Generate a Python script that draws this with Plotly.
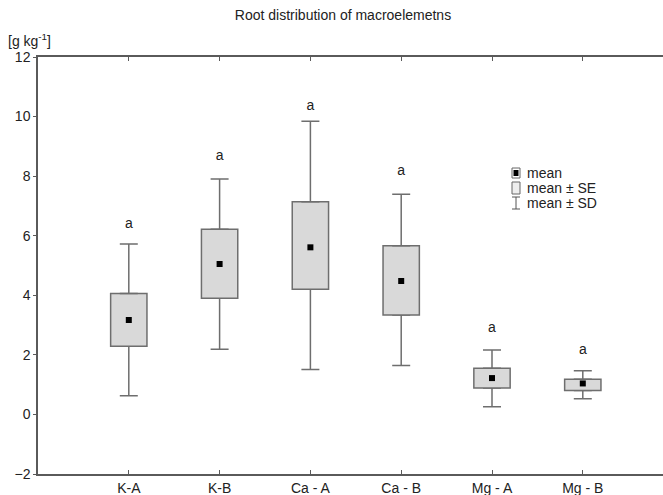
import plotly.graph_objects as go

categories = ["K-A", "K-B", "Ca - A", "Ca - B", "Mg - A", "Mg - B"]
means = [3.17, 5.05, 5.61, 4.48, 1.22, 1.04]
se_low = [2.29, 3.90, 4.20, 3.34, 0.89, 0.80]
se_high = [4.06, 6.22, 7.14, 5.66, 1.55, 1.18]
sd_low = [0.63, 2.19, 1.51, 1.64, 0.26, 0.53]
sd_high = [5.72, 7.90, 9.84, 7.39, 2.16, 1.47]
letters = ["a", "a", "a", "a", "a", "a"]
letter_y = [6.38, 8.65, 10.33, 8.17, 2.89, 2.16]

AX = "#5a5a5a"
BOXLINE = "#6e6e6e"
BOXFILL = "#d9d9d9"
FONT = "Liberation Sans, Arial, sans-serif"

xs = list(range(len(categories)))
fig = go.Figure()

# lower whisker: invisible bar from sd_low to se_low with error bar down from its top
fig.add_trace(go.Bar(
    x=xs, base=sd_low, y=[l - s for l, s in zip(se_low, sd_low)],
    width=0.4, marker=dict(color="rgba(0,0,0,0)", line=dict(width=0)),
    error_y=dict(type="data", symmetric=False, array=[0] * len(xs),
                 arrayminus=[l - s for l, s in zip(se_low, sd_low)],
                 color=BOXLINE, thickness=1.5, width=9),
    hoverinfo="skip", showlegend=False))

# box (mean ± SE) with upper whisker
fig.add_trace(go.Bar(
    x=xs, base=se_low, y=[h - l for h, l in zip(se_high, se_low)],
    width=0.4, marker=dict(color=BOXFILL, line=dict(color=BOXLINE, width=1.5)),
    error_y=dict(type="data", symmetric=False,
                 array=[s - h for s, h in zip(sd_high, se_high)],
                 arrayminus=[0] * len(xs),
                 color=BOXLINE, thickness=1.5, width=9),
    showlegend=False))

# mean markers
fig.add_trace(go.Scatter(
    x=xs, y=means, mode="markers",
    marker=dict(symbol="square", size=6, color="black"),
    showlegend=False))

# significance letters
fig.add_trace(go.Scatter(
    x=xs, y=letter_y, mode="text", text=letters,
    textfont=dict(family=FONT, size=14, color="#222"),
    textposition="middle center", showlegend=False))

W, H = 663, 495
L, R, T, B = 38, 0, 57, 21
pw, ph = W - L - R, H - T - B

def px_x(px):
    return (px - L) / pw

def px_y(py):
    return (H - B - py) / ph

shapes = []
annotations = []
# legend entries
leg_y = [173, 188, 203]
leg_text = ["mean", "mean \u00b1 SE", "mean \u00b1 SD"]
ix = 516
for yy, t in zip(leg_y, leg_text):
    annotations.append(dict(x=px_x(525), y=px_y(yy), xref="paper", yref="paper",
                            text=t, showarrow=False, xanchor="left", yanchor="middle",
                            font=dict(family=FONT, size=14, color="#222")))
# mean icon
shapes.append(dict(type="rect", xref="paper", yref="paper", xsizemode="pixel", ysizemode="pixel",
                   xanchor=px_x(ix), yanchor=px_y(leg_y[0]), x0=-4, x1=4, y0=-5, y1=5,
                   line=dict(color="#666", width=1), fillcolor="white"))
shapes.append(dict(type="rect", xref="paper", yref="paper", xsizemode="pixel", ysizemode="pixel",
                   xanchor=px_x(ix), yanchor=px_y(leg_y[0]), x0=-2.5, x1=2.5, y0=-3, y1=3,
                   line=dict(width=0), fillcolor="black"))
# SE icon
shapes.append(dict(type="rect", xref="paper", yref="paper", xsizemode="pixel", ysizemode="pixel",
                   xanchor=px_x(ix), yanchor=px_y(leg_y[1]), x0=-4, x1=4, y0=-6, y1=6,
                   line=dict(color="#666", width=1), fillcolor="#eeeeee"))
# SD icon (I-beam)
for seg in [(-4, 4, 6, 6), (-4, 4, -6, -6), (0, 0, -6, 6)]:
    shapes.append(dict(type="line", xref="paper", yref="paper", xsizemode="pixel", ysizemode="pixel",
                       xanchor=px_x(ix), yanchor=px_y(leg_y[2]),
                       x0=seg[0], x1=seg[1], y0=seg[2], y1=seg[3],
                       line=dict(color="#555", width=1)))

# y axis unit label
annotations.append(dict(x=8, y=H - 40, xref="paper", yref="paper", text="[g kg<sup>-1</sup>]",
                        showarrow=False))
annotations[-1] = dict(x=px_x(6), y=px_y(40), xref="paper", yref="paper",
                       text="[g kg<sup>-1</sup>]", showarrow=False, xanchor="left",
                       yanchor="middle", font=dict(family=FONT, size=14, color="#222"))

fig.update_layout(
    width=W, height=H,
    margin=dict(l=L, r=R, t=T, b=B, pad=0),
    paper_bgcolor="white", plot_bgcolor="white",
    barmode="overlay",
    title=dict(text="Root distribution of macroelemetns", x=343 / W, xref="container",
               xanchor="center", y=1 - 15 / H, yref="container", yanchor="middle",
               font=dict(family=FONT, size=14, color="#222")),
    xaxis=dict(range=[-1, -1 + pw / 90.8], tickmode="array", tickvals=xs, ticktext=categories,
               showgrid=False, zeroline=False, showline=True, linecolor=AX, linewidth=1.5,
               mirror="ticks", ticks="inside", ticklen=4, tickcolor=AX,
               tickfont=dict(family=FONT, size=14, color="#222")),
    yaxis=dict(range=[-2, 12], tickmode="array", tickvals=list(range(-2, 13, 2)),
               showgrid=False, zeroline=False, showline=True, linecolor=AX, linewidth=1.5,
               ticks="outside", ticklen=3, tickcolor=AX,
               tickfont=dict(family=FONT, size=14, color="#222")),
    shapes=shapes, annotations=annotations,
)

fig.write_html("out.html")
